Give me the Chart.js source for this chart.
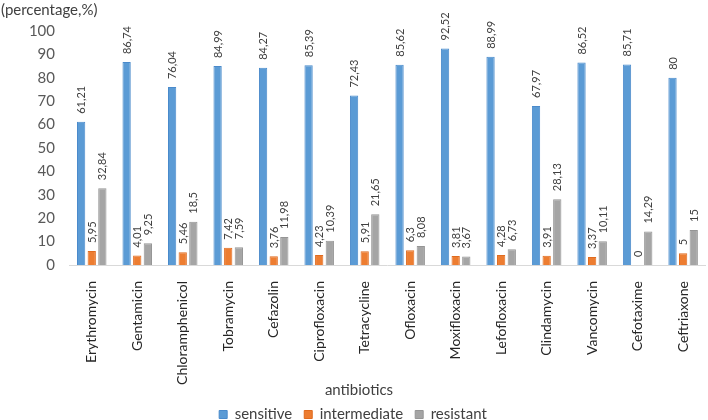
<!DOCTYPE html>
<html>
<head>
<meta charset="utf-8">
<script src="https://cdn.jsdelivr.net/npm/chart.js@4/dist/chart.umd.min.js"></script>
<style>
  html, body { margin: 0; padding: 0; background: #fff; }
  #wrap { width: 708px; height: 420px; position: relative; }
</style>
</head>
<body>
<div id="wrap"><canvas id="c" width="708" height="420"></canvas></div>
<script>
const categories = ["Erythromycin", "Gentamicin", "Chloramphenicol", "Tobramycin", "Cefazolin", "Ciprofloxacin", "Tetracycline", "Ofloxacin", "Moxifloxacin", "Lefofloxacin", "Clindamycin", "Vancomycin", "Cefotaxime", "Ceftriaxone"];
const sensitive = [61.21, 86.74, 76.04, 84.99, 84.27, 85.39, 72.43, 85.62, 92.52, 88.99, 67.97, 86.52, 85.71, 80];
const intermediate = [5.95, 4.01, 5.46, 7.42, 3.76, 4.23, 5.91, 6.3, 3.81, 4.28, 3.91, 3.37, 0, 5];
const resistant = [32.84, 9.25, 18.5, 7.59, 11.98, 10.39, 21.65, 8.08, 3.67, 6.73, 28.13, 10.11, 14.29, 15];
const seriesNames = ["sensitive", "intermediate", "resistant"];
const yTitle = "(percentage,%)";
const xTitle = "antibiotics";

const FONT = "Lato, 'Open Sans', sans-serif";

const labelPlugin = {
  id: 'valueLabels',
  afterDatasetsDraw(chart) {
    const ctx = chart.ctx;
    ctx.save();
    ctx.font = "11px " + FONT;
    ctx.fillStyle = "#404040";
    chart.data.datasets.forEach((ds, di) => {
      const meta = chart.getDatasetMeta(di);
      meta.data.forEach((el, i) => {
        const v = ds.data[i];
        const txt = String(v).replace('.', ',');
        ctx.save();
        ctx.translate(el.x + 0.5, el.y - 8);
        ctx.rotate(-Math.PI / 2);
        ctx.textAlign = 'left';
        ctx.textBaseline = 'middle';
        ctx.fillText(txt, 0, 0);
        ctx.restore();
      });
    });
    ctx.restore();
  }
};

const titlesPlugin = {
  id: 'titles',
  afterDraw(chart) {
    const ctx = chart.ctx;
    ctx.save();
    ctx.fillStyle = "#404040";
    ctx.font = "15px " + FONT;
    ctx.textAlign = 'left';
    ctx.textBaseline = 'middle';
    ctx.fillText(yTitle, 1, 10);
    ctx.textAlign = 'center';
    ctx.fillText(xTitle, 359, 390);
    ctx.restore();
  }
};

new Chart(document.getElementById('c'), {
  type: 'bar',
  data: {
    labels: categories,
    datasets: [
      { label: seriesNames[0], data: sensitive, backgroundColor: '#5B9BD5', borderColor: '#4a8acb', borderWidth: 1 },
      { label: seriesNames[1], data: intermediate, backgroundColor: '#ED7D31', borderColor: '#e06b1f', borderWidth: 1 },
      { label: seriesNames[2], data: resistant, backgroundColor: '#A5A5A5', borderColor: '#959595', borderWidth: 1 }
    ]
  },
  options: {
    responsive: false,
    animation: false,
    devicePixelRatio: 1,
    layout: { padding: { left: 0, right: 2, top: 31, bottom: -12 } },
    datasets: { bar: { categoryPercentage: 0.7, barPercentage: 0.78 } },
    plugins: {
      legend: {
        position: 'bottom',
        labels: { boxWidth: 8, boxHeight: 8, font: { size: 15, family: FONT }, color: '#404040', padding: 12 }
      },
      tooltip: { enabled: false }
    },
    scales: {
      x: {
        grid: { display: false },
        border: { display: true, color: '#d9d9d9', width: 1 },
        ticks: { minRotation: 90, maxRotation: 90, autoSkip: false, color: '#262626', font: { size: 14, family: FONT }, padding: 8 },
        afterFit(scale) { scale.height = 130; }
      },
      y: {
        min: 0, max: 100,
        grid: { display: false, drawTicks: false },
        border: { display: false },
        ticks: { stepSize: 10, color: '#595959', font: { size: 15, family: FONT }, padding: 14 },
        afterFit(scale) { scale.width = 69; }
      }
    }
  },
  plugins: [labelPlugin, titlesPlugin]
});
</script>
</body>
</html>
